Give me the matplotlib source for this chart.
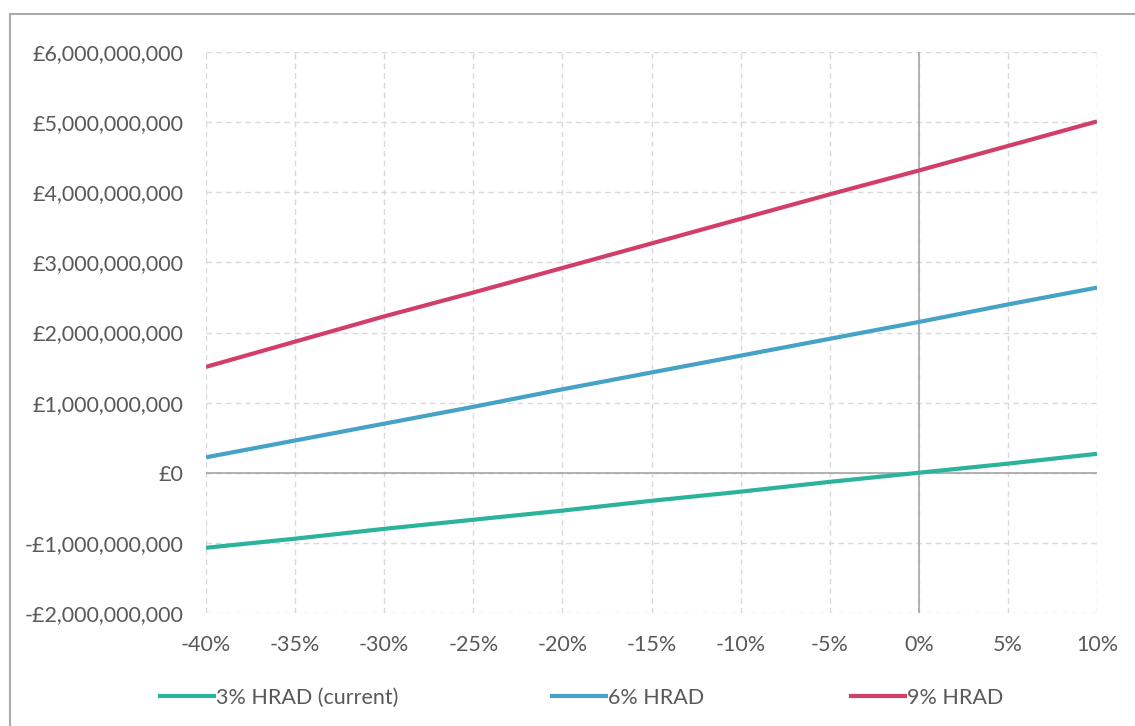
import matplotlib
matplotlib.use("Agg")
import matplotlib.pyplot as plt
from matplotlib.lines import Line2D
from matplotlib.patches import Rectangle
from matplotlib.ticker import FuncFormatter, MultipleLocator

plt.rcParams['font.family'] = ['Lato', 'DejaVu Sans']

# Change in value (%) against net position (£)
change_pct = [-40, -35, -30, -25, -20, -15, -10, -5, 0, 5, 10]
hrad_3 = [-1.07e9, -0.94e9, -0.80e9, -0.67e9, -0.54e9, -0.40e9, -0.27e9, -0.13e9, 0.0, 0.13e9, 0.27e9]
hrad_6 = [0.22e9, 0.46e9, 0.70e9, 0.94e9, 1.19e9, 1.43e9, 1.67e9, 1.91e9, 2.15e9, 2.40e9, 2.64e9]
hrad_9 = [1.51e9, 1.87e9, 2.23e9, 2.57e9, 2.92e9, 3.27e9, 3.62e9, 3.97e9, 4.31e9, 4.66e9, 5.01e9]
series_names = ["3% HRAD (current)", "6% HRAD", "9% HRAD"]
series_colors = ["#2BB39B", "#46A2C6", "#D13F69"]

W, H = 1135, 726
fig = plt.figure(figsize=(W / 100, H / 100), dpi=100)
ax = fig.add_axes([206 / W, 1 - 613 / H, (1097 - 206) / W, (613 - 52) / H])

text_color = "#595959"
grid_color = "#D9D9D9"
axis_color = "#A6A6A6"
fsize = 15.5

# zero lines
ax.axhline(0, color=axis_color, lw=1.2, zorder=2)
ax.axvline(0, color=axis_color, lw=1.2, zorder=2)

for vals, name, col in zip([hrad_3, hrad_6, hrad_9], series_names, series_colors):
    ax.plot(change_pct, vals, color=col, lw=3, label=name, zorder=3, solid_capstyle='butt')

ax.set_xlim(-40, 10)
ax.set_ylim(-2e9, 6e9)
ax.xaxis.set_major_locator(MultipleLocator(5))
ax.yaxis.set_major_locator(MultipleLocator(1e9))


def money(v, pos):
    v = int(round(v))
    if v < 0:
        return "-£{:,}".format(-v)
    return "£{:,}".format(v)


ax.yaxis.set_major_formatter(FuncFormatter(money))
ax.xaxis.set_major_formatter(FuncFormatter(lambda v, p: "{:d}%".format(int(round(v)))))

ax.set_axisbelow(True)
ax.grid(True, color=grid_color, ls=(0, (4, 3)), lw=1.0)
for s in ax.spines.values():
    s.set_visible(False)
ax.tick_params(axis='both', length=0, labelsize=fsize, colors=text_color)
ax.tick_params(axis='y', pad=16)
ax.tick_params(axis='x', pad=16)

# outer chart border
fig.patches.append(Rectangle((10 / W, -0.05), 1.2, 1 - 14 / H + 0.05,
                             transform=fig.transFigure, fill=False,
                             edgecolor="#AAAAAA", lw=1.5))

# legend entries along the bottom
legend_x = [160, 552, 851]
for x0, name, col in zip(legend_x, series_names, series_colors):
    h = Line2D([], [], color=col, lw=3)
    leg = fig.legend([h], [name], loc='center left',
                     bbox_to_anchor=(x0 / W, 1 - 698 / H),
                     frameon=False, fontsize=fsize, handlelength=2.5,
                     handletextpad=0.12, borderpad=0, borderaxespad=0)
    for t in leg.get_texts():
        t.set_color(text_color)

fig.savefig("out.png", dpi=100)
